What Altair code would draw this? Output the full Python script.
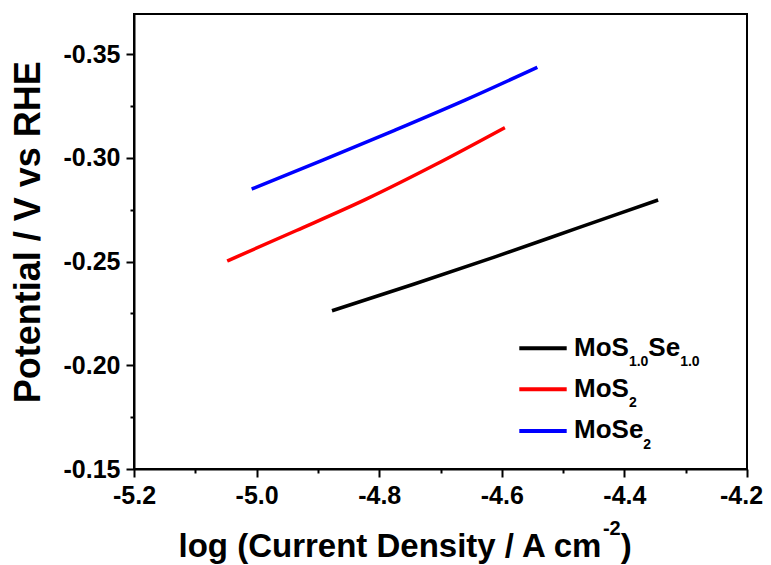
import altair as alt
import pandas as pd

# ---- data ----
series_names = ["MoS1.0Se1.0", "MoS2", "MoSe2"]
series_colors = ["#000000", "#ff0000", "#0000ff"]

x_mosse = [-4.877, -4.744, -4.611, -4.478, -4.345]
y_mosse = [-0.2263, -0.2391, -0.2523, -0.2660, -0.2797]

x_mos2 = [-5.048, -4.935, -4.822, -4.708, -4.595]
y_mos2 = [-0.2503, -0.2650, -0.2800, -0.2968, -0.3146]

x_mose2 = [-5.008, -4.892, -4.775, -4.659, -4.542]
y_mose2 = [-0.2850, -0.2989, -0.3133, -0.3280, -0.3437]

x_major = [-5.2, -5.0, -4.8, -4.6, -4.4, -4.2]
x_minor = [-5.1, -4.9, -4.7, -4.5, -4.3]
y_major = [-0.35, -0.30, -0.25, -0.20, -0.15]
y_minor = [-0.325, -0.275, -0.225, -0.175]

rows = []
for name, xs, ys in [(series_names[0], x_mosse, y_mosse),
                     (series_names[1], x_mos2, y_mos2),
                     (series_names[2], x_mose2, y_mose2)]:
    for i, (a, b) in enumerate(zip(xs, ys)):
        rows.append({"series": name, "x": a, "y": b, "order": i})
df = pd.DataFrame(rows)

FONT = "Liberation Sans, Arial, sans-serif"
W, H = 613, 455
MINUS = "\u2212"

xscale = alt.Scale(domain=[-5.2, -4.2], nice=False, zero=False)
yscale = alt.Scale(domain=[-0.15, -0.3694], nice=False, zero=False)

lines = alt.Chart(df).mark_line(strokeWidth=3.5, interpolate="monotone").encode(
    x=alt.X("x:Q", scale=xscale,
            axis=alt.Axis(values=x_major, orient="bottom", tickSize=8,
                          labelPadding=26, labelBaseline="alphabetic",
                          labelFlush=False, labelOverlap=False,
                          labelOffset={"condition": {"test": "datum.value > -4.25", "value": -6},
                                       "value": 0},
                          labelExpr=f"replace(format(datum.value, '.1f'), '{MINUS}', '-')",
                          title=None)),
    y=alt.Y("y:Q", scale=yscale,
            axis=alt.Axis(values=y_major, orient="left", tickSize=8,
                          labelPadding=6, labelBaseline="middle",
                          labelFlush=False, labelOverlap=False,
                          labelExpr=f"replace(format(datum.value, '.2f'), '{MINUS}', '-')",
                          title="Potential / V vs RHE", titleFontSize=36,
                          titleAngle=270, titleBaseline="alphabetic",
                          titleAlign="center", titleX=-94.5, titleY=217.7)),
    color=alt.Color("series:N", scale=alt.Scale(domain=series_names, range=series_colors),
                    legend=None),
    order="order:Q",
)

minor = alt.Chart(df).mark_point(opacity=0).encode(
    x=alt.X("x:Q", scale=xscale,
            axis=alt.Axis(values=x_minor, orient="bottom", tickSize=4, labels=False,
                          domain=False, title=None)),
    y=alt.Y("y:Q", scale=yscale,
            axis=alt.Axis(values=y_minor, orient="left", tickSize=4, labels=False,
                          domain=False, title=None)),
)

one = alt.Data(values=[{}])

# Arial-bold advance widths (per em) for placing sub/superscript pieces
ADV = {"M": 0.833, "o": 0.611, "S": 0.667, "e": 0.556, "1": 0.556, ".": 0.278,
       "0": 0.556, "2": 0.556, "-": 0.333}


def width(s, fs):
    return sum(ADV[c] for c in s) * fs


def txt(s, x, y, fs):
    return alt.Chart(one).mark_text(text=s, align="left", baseline="alphabetic",
                                    font=FONT, fontSize=fs, fontWeight="bold",
                                    color="black").encode(
        x=alt.value(x), y=alt.value(y))


# ---- legend (inside plot, lower right) ----
LFS, SFS = 26, 14
lx1, lx2, tx = 385.3, 432.7, 440
row_y = [334.3, 375.3, 417.0]
legend_layers = []
for col, yy in zip(series_colors, row_y):
    legend_layers.append(
        alt.Chart(one).mark_rule(color=col, strokeWidth=4).encode(
            x=alt.value(lx1), x2=alt.value(lx2), y=alt.value(yy)))

pieces = [
    [("MoS", False), ("1.0", True), ("Se", False), ("1.0", True)],
    [("MoS", False), ("2", True)],
    [("MoSe", False), ("2", True)],
]
for parts, yy in zip(pieces, row_y):
    base = yy + 7.4
    cx = tx
    for s, sub in parts:
        fs = SFS if sub else LFS
        legend_layers.append(txt(s, cx, base + (10.3 if sub else 0), fs))
        cx += width(s, fs)

# ---- x-axis title with superscript ----
XFS, SUPFS = 33, 20
xt0 = 44.5
xbase = 543
main_str = "log (Current Density / A cm"
MAIN_W = 12.891 * XFS
title_layers = [
    txt(main_str, xt0, xbase, XFS),
    txt("-2", xt0 + MAIN_W - 1, xbase - 22, SUPFS),
    txt(")", xt0 + MAIN_W - 1 + width("-2", SUPFS), xbase, XFS),
]

chart = alt.layer(lines, minor, *legend_layers, *title_layers).resolve_axis(
    x="independent", y="independent"
).properties(
    width=W, height=H,
    autosize=alt.AutoSizeParams(type="none"),
    padding={"left": 126, "top": 6, "right": 16, "bottom": 100},
    background="white",
).configure_view(
    stroke="black", strokeWidth=2
).configure_axis(
    grid=False,
    domainColor="black", domainWidth=2,
    tickColor="black", tickWidth=2,
    labelFont=FONT, labelFontSize=25, labelFontWeight="bold", labelColor="black",
    titleFont=FONT, titleFontWeight="bold", titleColor="black",
)

chart.save("out.html", embed_options={"renderer": "svg", "actions": False})
